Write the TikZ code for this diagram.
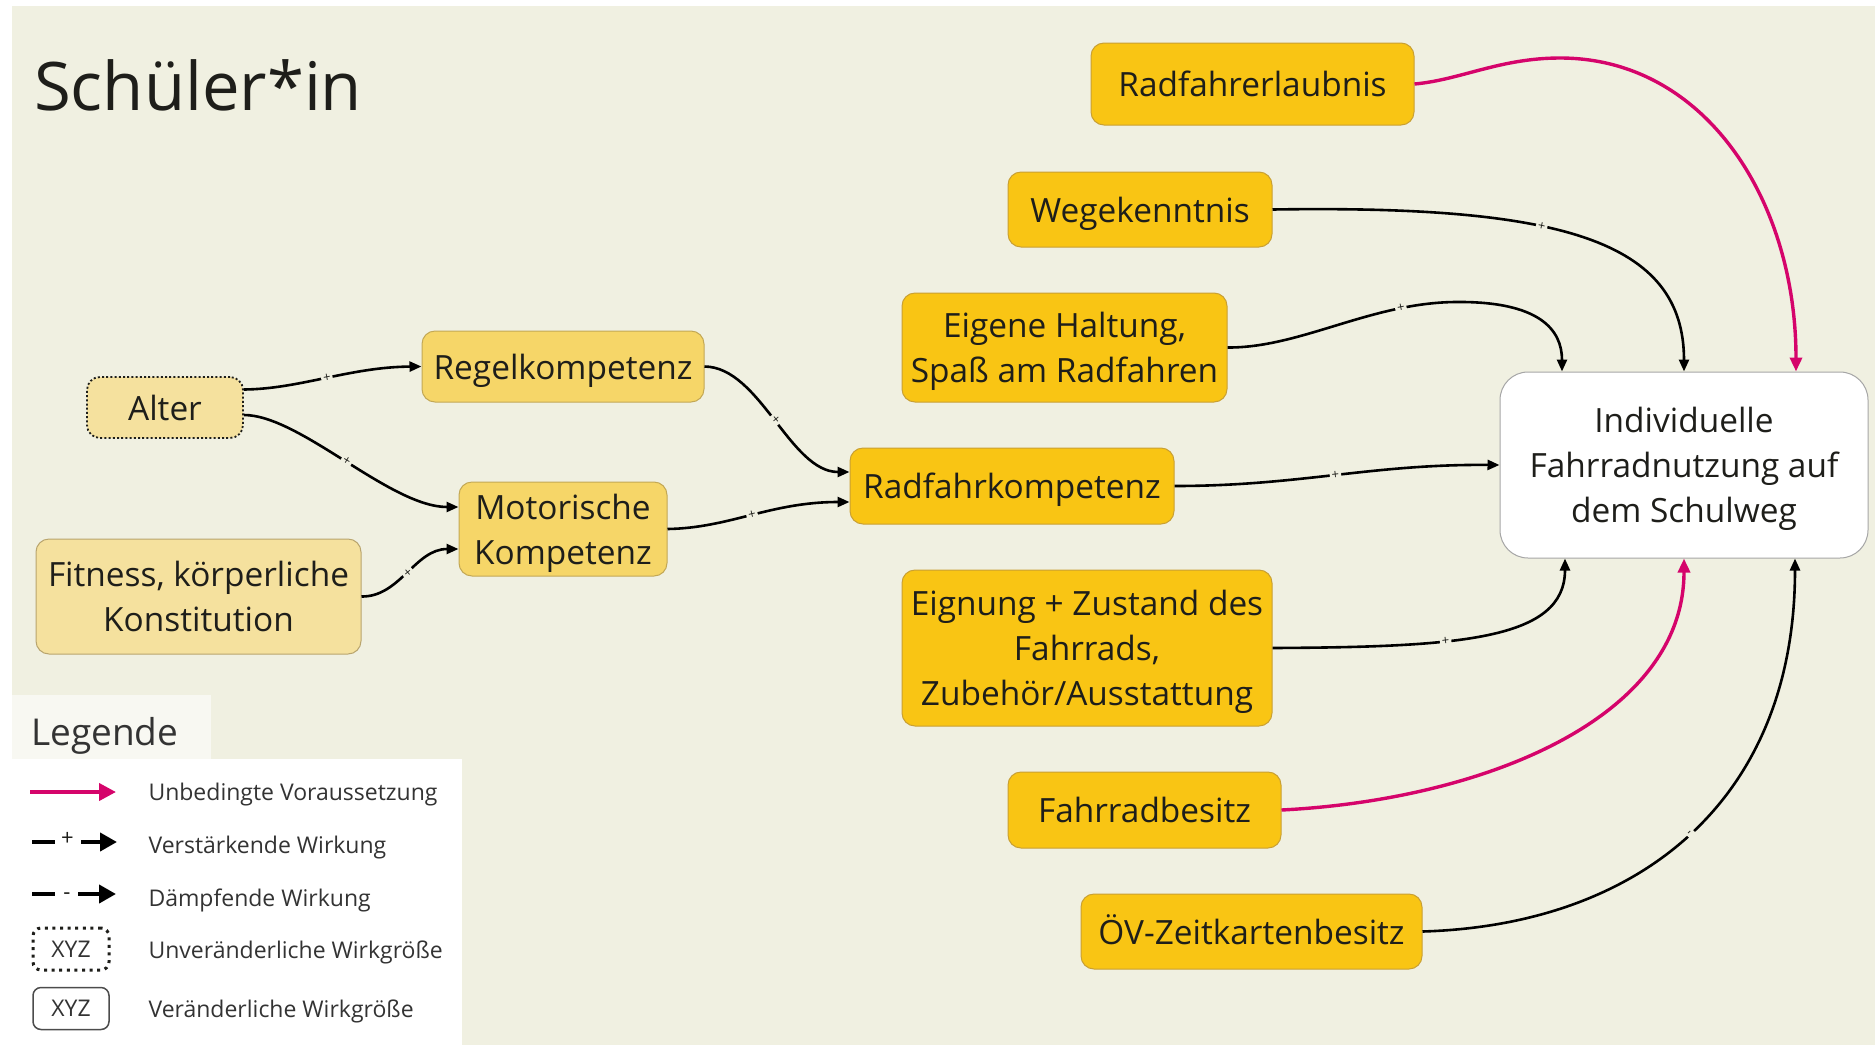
\documentclass[tikz,border=0pt]{standalone}
\usepackage{fontspec}
\setmainfont{Open Sans}
\usetikzlibrary{arrows.meta}

\definecolor{bg}{HTML}{F0F0E1}
\definecolor{gold}{HTML}{F9C514}
\definecolor{goldline}{HTML}{C9A033}
\definecolor{mid}{HTML}{F6D668}
\definecolor{midline}{HTML}{C3A855}
\definecolor{pale}{HTML}{F5E19E}
\definecolor{paleline}{HTML}{B9A56E}
\definecolor{req}{HTML}{D5046B}
\definecolor{ink}{HTML}{1E1E1A}
\definecolor{legink}{HTML}{333333}
\definecolor{legbg}{HTML}{F8F8F2}

% fixed line box for box labels, so every line sits as in a 45pt line
\newcommand{\lb}{\rule[-9.6pt]{0pt}{45pt}}

\begin{document}
\begin{tikzpicture}[x=1pt, y=-1pt,
  every node/.style={text=ink},
  factor/.style={draw=goldline, line width=1pt, rounded corners=13pt, fill=gold,
    align=center, inner sep=0pt, font=\fontsize{33.4}{45}\selectfont},
  skill/.style={factor, fill=mid, draw=midline},
  basic/.style={factor, fill=pale, draw=paleline},
  fixed/.style={basic, draw=ink, line width=1.8pt, dash pattern=on 2pt off 2.2pt},
  target/.style={factor, fill=white, draw=black!35, rounded corners=28pt},
  effect/.style={line width=2.6pt, -{Triangle[length=12pt,width=10pt]}},
  must/.style={line width=3.4pt, draw=req, -{Triangle[length=14pt,width=12pt]}},
  sign/.style={fill=bg, inner sep=2pt, font=\fontsize{13}{13}\selectfont, sloped},
  legtext/.style={anchor=base west, font=\fontsize{23}{28}\selectfont, text=legink},
  sample/.style={line width=4pt, draw=black},
  samplehead/.style={sample, -{Triangle[length=17pt,width=18pt]}},
  legsign/.style={font=\fontsize{22}{26}\selectfont, inner sep=0pt},
  xyzbox/.style={minimum width=76pt, minimum height=42pt, rounded corners=8pt,
    inner sep=0pt, font=\fontsize{23}{23}\selectfont, text=legink},
]
\useasboundingbox (0,0) rectangle (1875,1045);

% canvas and legend panels
\fill[white] (0,0) rectangle (1875,1045);
\fill[bg] (12,6) rectangle (1875,1045);
\fill[legbg] (12,695) rectangle (211,759);
\fill[white] (12,759) rectangle (462,1045);

% headings
\node[anchor=base west, inner sep=0pt, font=\fontsize{67}{67}\selectfont] (title) at (34,110) {Schüler*in};
\node[anchor=base west, inner sep=0pt, font=\fontsize{37}{37}\selectfont, text=legink] (legtitle) at (31,745) {Legende};

% factors
\node[factor, minimum width=323pt, minimum height=82pt] (rad) at (1252.5,84) {\lb Radfahrerlaubnis};
\node[factor, minimum width=264pt, minimum height=75pt] (weg) at (1140,209.5) {\lb Wegekenntnis};
\node[factor, minimum width=325pt, minimum height=109pt] (eig) at (1064.5,347.5) {\lb Eigene Haltung,\\\lb Spaß am Radfahren};
\node[skill, minimum width=282pt, minimum height=71pt] (regel) at (563,366.5) {\lb Regelkompetenz};
\node[fixed, minimum width=156pt, minimum height=61pt] (alter) at (165,407.5) {\lb Alter};
\node[skill, minimum width=208pt, minimum height=94pt] (mot) at (563,529) {\lb Motorische\\\lb Kompetenz};
\node[basic, minimum width=325pt, minimum height=115pt] (fit) at (198.5,596.5) {\lb Fitness, körperliche\\\lb Konstitution};
\node[factor, minimum width=324pt, minimum height=76pt] (rk) at (1012,486) {\lb Radfahrkompetenz};
\node[factor, minimum width=370pt, minimum height=156pt] (eign) at (1087,648) {\lb Eignung + Zustand des\\\lb Fahrrads,\\\lb Zubehör/Ausstattung};
\node[factor, minimum width=273pt, minimum height=76pt] (fb) at (1144.5,810) {\lb Fahrradbesitz};
\node[factor, minimum width=341pt, minimum height=75pt] (oev) at (1251.5,931.5) {\lb ÖV-Zeitkartenbesitz};
\node[target, minimum width=368pt, minimum height=186pt] (ind) at (1684,465) {\lb Individuelle\\\lb Fahrradnutzung auf\\\lb dem Schulweg};

% influences
\draw[effect] ([yshift=18pt]alter.east) .. controls (300,389) and (350,367) .. (regel.west) node[sign,pos=0.5]{+};
\draw[effect] ([yshift=-7.5pt]alter.east) .. controls (300,415) and (390,507) .. ([yshift=22pt]mot.west) node[sign,pos=0.5]{+};
\draw[effect] (fit.east) .. controls (400,597) and (415,549) .. ([yshift=-20pt]mot.west) node[sign,pos=0.5]{+};
\draw[effect] (regel.east) .. controls (760,367) and (790,472) .. ([yshift=14pt]rk.west) node[sign,pos=0.5]{+};
\draw[effect] (mot.east) .. controls (730,528) and (770,502) .. ([yshift=-16pt]rk.west) node[sign,pos=0.5]{+};
\draw[effect] (rk.east) .. controls (1300,486) and (1370,464) .. (ind.west) node[sign,pos=0.5]{+};
\draw[effect] (eig.east) .. controls (1300,348) and (1370,303) .. (1455,302) node[sign,pos=0.78]{+}
  .. controls (1540,301) and (1562,330) .. ([xshift=-122pt]ind.north);
\draw[effect] (weg.east) .. controls (1560,205) and (1684,240) .. (ind.north) node[sign,pos=0.4]{+};
\draw[must] (rad.east) .. controls (1460,80) and (1500,58) .. (1560,58)
  .. controls (1705,58) and (1796,200) .. ([xshift=112pt]ind.north);
\draw[effect] (eign.east) .. controls (1460,647) and (1565,640) .. ([xshift=-119pt]ind.south) node[sign,pos=0.37]{+};
\draw[must] (fb.east) .. controls (1480,800) and (1684,720) .. (ind.south);
\draw[effect] (oev.east) .. controls (1640,925) and (1795,800) .. ([xshift=111pt]ind.south) node[sign,pos=0.5]{-};

% legend samples
\coordinate (reqA) at (30,792);
\coordinate (reqB) at (116,792);
\draw[sample, draw=req, -{Triangle[length=17pt,width=17pt]}] (reqA) -- (reqB);

\coordinate (posA) at (32,842);
\coordinate (posB) at (55,842);
\coordinate (posC) at (81,842);
\coordinate (posD) at (117,842);
\draw[sample] (posA) -- (posB);
\draw[samplehead] (posC) -- (posD);
\node[legsign] (possign) at (67.5,839) {+};

\coordinate (negA) at (32,894);
\coordinate (negB) at (55,894);
\coordinate (negC) at (78,894);
\coordinate (negD) at (116,894);
\draw[sample] (negA) -- (negB);
\draw[samplehead] (negC) -- (negD);
\node[legsign] (negsign) at (67,896) {-};

\node[xyzbox, draw=ink, line width=3pt, dash pattern=on 3pt off 4.6pt] (xyzfixed) at (71,949) {XYZ};
\node[xyzbox, draw=black!70, line width=1.5pt] (xyzvar) at (71,1008.5) {XYZ};

% legend texts
\node[legtext] (lt1) at (145,800) {Unbedingte Voraussetzung};
\node[legtext] (lt2) at (145,853) {Verstärkende Wirkung};
\node[legtext] (lt3) at (145,906) {Dämpfende Wirkung};
\node[legtext] (lt4) at (145,958) {Unveränderliche Wirkgröße};
\node[legtext] (lt5) at (145,1017) {Veränderliche Wirkgröße};
\end{tikzpicture}
\end{document}
